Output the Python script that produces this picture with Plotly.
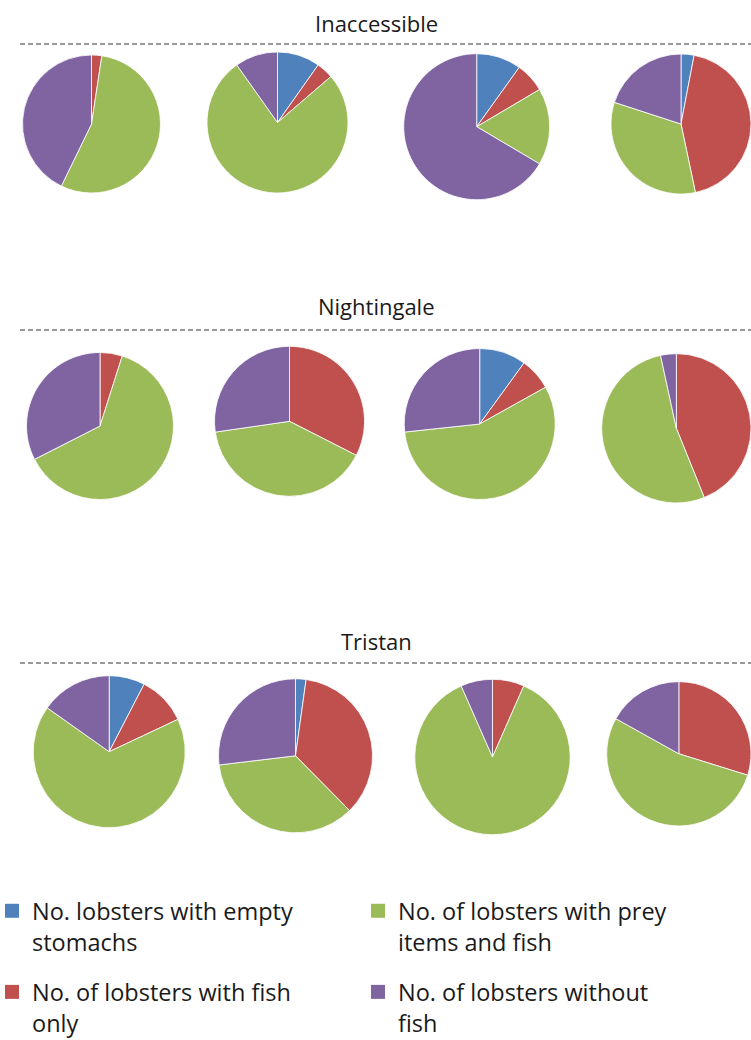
import plotly.graph_objects as go

# ---------------- data (percent of lobsters per sample) ----------------
islands = ["Inaccessible", "Nightingale", "Tristan"]
samples = ["1", "2", "3", "4"]

categories = [
    "No. lobsters with empty<br>stomachs",
    "No. of lobsters with fish<br>only",
    "No. of lobsters with prey<br>items and fish",
    "No. of lobsters without<br>fish",
]

# one value per pie: Inaccessible 1-4, Nightingale 1-4, Tristan 1-4
empty_stomachs = [0.0, 9.8, 9.9, 3.0,   0.0, 0.0, 10.0, 0.0,   7.6, 2.2, 0.0, 0.0]
fish_only      = [2.4, 3.9, 6.6, 43.7,  4.9, 32.5, 6.9, 43.9,  10.4, 35.4, 6.6, 29.8]
prey_and_fish  = [54.8, 76.5, 17.0, 33.3, 62.6, 40.2, 56.4, 52.7, 66.8, 35.5, 86.8, 53.3]
without_fish   = [42.8, 9.8, 66.5, 20.0, 32.5, 27.3, 26.7, 3.4,  15.2, 26.9, 6.6, 16.9]

# ---------------- style / layout ----------------
colors = ["#4F81BD", "#C0504D", "#9BBB59", "#8064A2"]
W, H = 751, 1040

# pie centres and radii in pixels
pie_cx = [91.5, 277.5, 476.7, 683.5,  100.0, 289.5, 479.7, 681.7,  109.2, 295.5, 492.5, 681.2]
pie_cy = [124.0, 122.5, 126.7, 124.0, 426.0, 421.3, 424.0, 428.3,  751.7, 755.8, 757.0, 753.8]
pie_r  = [69.0, 70.5, 73.0, 72.5,     73.5, 75.0, 75.5, 80.0,      76.0, 77.0, 77.7, 74.5]

title_y = [23.0, 306.5, 640.7]
line_y = [44.0, 330.0, 663.0]

fig = go.Figure()

for k in range(12):
    cx, cy, r = pie_cx[k], pie_cy[k], pie_r[k]
    if cx + r > W:  # keep left edge, fit inside page
        left = cx - r
        r = (W - left) / 2.0
        cx = left + r
    fig.add_trace(go.Pie(
        labels=categories,
        values=[empty_stomachs[k], fish_only[k], prey_and_fish[k], without_fish[k]],
        name=f"{islands[k // 4]} {samples[k % 4]}",
        sort=False,
        direction="clockwise",
        rotation=0,
        textinfo="none",
        showlegend=False,
        marker=dict(colors=colors, line=dict(color="rgba(255,255,255,0.8)", width=1)),
        domain=dict(x=[(cx - r) / W, (cx + r) / W], y=[1 - (cy + r) / H, 1 - (cy - r) / H]),
    ))

# legend entries (two columns)
legend_of = ["legend", "legend", "legend2", "legend2"]
for i in range(4):
    fig.add_trace(go.Scatter(
        x=[None], y=[None], mode="markers",
        marker=dict(symbol="square", size=14, color=colors[i]),
        name=categories[i],
        legend=legend_of[i],
        legendgroup=f"g{i}",
        showlegend=True,
        hoverinfo="skip",
    ))

for t, y in zip(islands, title_y):
    fig.add_annotation(
        text=t, x=376.5 / W, y=1 - y / H, xref="paper", yref="paper",
        xanchor="center", yanchor="middle", showarrow=False,
        font=dict(family="Open Sans", size=22, color="#1a1a1a"),
    )

for y in line_y:
    fig.add_shape(
        type="line", xref="paper", yref="paper",
        x0=20 / W, x1=1, y0=1 - y / H, y1=1 - y / H,
        line=dict(color="#333333", width=1, dash="5px,3px"),
    )

legend_font = dict(family="Open Sans", size=23.5, color="#1a1a1a")
fig.update_layout(
    width=W, height=H,
    margin=dict(l=0, r=0, t=0, b=0, autoexpand=False),
    paper_bgcolor="white", plot_bgcolor="white",
    xaxis=dict(visible=False), yaxis=dict(visible=False),
    legend=dict(
        x=-8 / W, y=1 - 889 / H, xanchor="left", yanchor="top",
        orientation="v", traceorder="grouped", tracegroupgap=17,
        valign="top", font=legend_font, bgcolor="rgba(0,0,0,0)",
    ),
    legend2=dict(
        x=358 / W, y=1 - 889 / H, xanchor="left", yanchor="top",
        orientation="v", traceorder="grouped", tracegroupgap=17,
        valign="top", font=legend_font, bgcolor="rgba(0,0,0,0)",
    ),
)

fig.write_html("out.html")
